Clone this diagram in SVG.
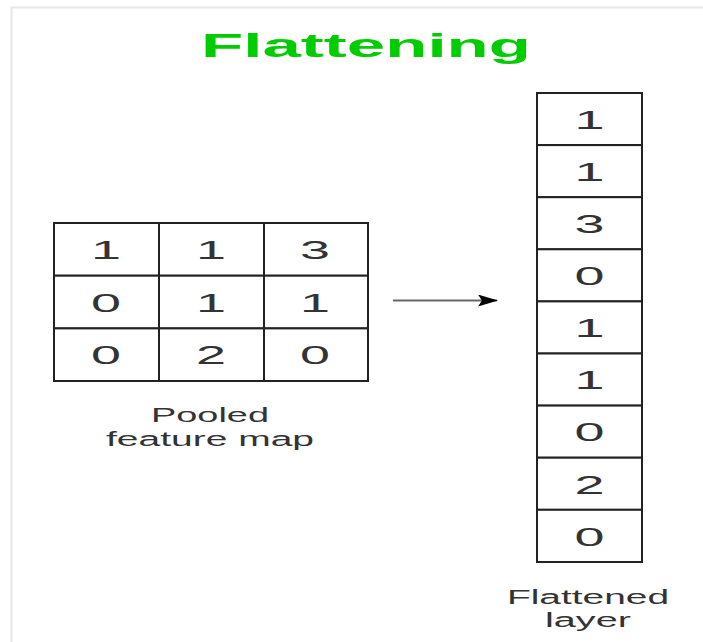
<svg xmlns="http://www.w3.org/2000/svg" width="703" height="642" viewBox="0 0 703 642">
<style>
.cell{fill:#fff;stroke:#222;stroke-width:2}
.d{font-family:"Liberation Sans",Arial,sans-serif;font-size:26px;fill:#333;text-anchor:middle}
.lbl{font-family:"Liberation Sans",Arial,sans-serif;font-size:20px;fill:#333;text-anchor:middle}
.title{font-family:"Liberation Sans",Arial,sans-serif;font-size:34px;font-weight:bold;fill:#00cc00;text-anchor:middle}
</style>
<defs>
<marker id="ah" markerWidth="20" markerHeight="12" refX="19" refY="6" orient="auto" markerUnits="userSpaceOnUse" viewBox="0 0 20 12">
<path d="M0,0 L20,6 L0,12 L4,6 Z" fill="#000"/>
</marker>
</defs>
<rect width="703" height="642" fill="#fff"/>
<path d="M11.5,642 V7.5 H703" fill="none" stroke="#e6e6e6" stroke-width="2"/>
<text id="title" class="title" x="366" y="57" textLength="330" lengthAdjust="spacingAndGlyphs">Flattening</text>
<g id="pooled-map">
<rect class="cell" x="54" y="223" width="105" height="52.7"/>
<rect class="cell" x="159" y="223" width="105" height="52.7"/>
<rect class="cell" x="264" y="223" width="104" height="52.7"/>
<rect class="cell" x="54" y="275.7" width="105" height="52.7"/>
<rect class="cell" x="159" y="275.7" width="105" height="52.7"/>
<rect class="cell" x="264" y="275.7" width="104" height="52.7"/>
<rect class="cell" x="54" y="328.4" width="105" height="52.6"/>
<rect class="cell" x="159" y="328.4" width="105" height="52.6"/>
<rect class="cell" x="264" y="328.4" width="104" height="52.6"/>
<g class="d">
<text x="106" y="259" textLength="30" lengthAdjust="spacingAndGlyphs">1</text>
<text x="211" y="259" textLength="30" lengthAdjust="spacingAndGlyphs">1</text>
<text x="315" y="259" textLength="30" lengthAdjust="spacingAndGlyphs">3</text>
<text x="106" y="312" textLength="30" lengthAdjust="spacingAndGlyphs">0</text>
<text x="211" y="312" textLength="30" lengthAdjust="spacingAndGlyphs">1</text>
<text x="315" y="312" textLength="30" lengthAdjust="spacingAndGlyphs">1</text>
<text x="106" y="364" textLength="30" lengthAdjust="spacingAndGlyphs">0</text>
<text x="211" y="364" textLength="30" lengthAdjust="spacingAndGlyphs">2</text>
<text x="315" y="364" textLength="30" lengthAdjust="spacingAndGlyphs">0</text>
</g>
<text class="lbl" x="210" y="422" textLength="118" lengthAdjust="spacingAndGlyphs">Pooled</text>
<text class="lbl" x="210" y="446" textLength="208" lengthAdjust="spacingAndGlyphs">feature map</text>
</g>
<g id="connectors">
<line x1="393" y1="300.5" x2="497" y2="300.5" stroke="#666" stroke-width="2" marker-end="url(#ah)"/>
</g>
<g id="flattened-layer">
<rect class="cell" x="537" y="93" width="105" height="52.1"/>
<rect class="cell" x="537" y="145.1" width="105" height="52.1"/>
<rect class="cell" x="537" y="197.2" width="105" height="52.1"/>
<rect class="cell" x="537" y="249.3" width="105" height="52.1"/>
<rect class="cell" x="537" y="301.4" width="105" height="52.1"/>
<rect class="cell" x="537" y="353.5" width="105" height="52.1"/>
<rect class="cell" x="537" y="405.6" width="105" height="52.1"/>
<rect class="cell" x="537" y="457.7" width="105" height="52.1"/>
<rect class="cell" x="537" y="509.8" width="105" height="52.2"/>
<g class="d">
<text x="589.5" y="129" textLength="30" lengthAdjust="spacingAndGlyphs">1</text>
<text x="589.5" y="181" textLength="30" lengthAdjust="spacingAndGlyphs">1</text>
<text x="589.5" y="233" textLength="30" lengthAdjust="spacingAndGlyphs">3</text>
<text x="589.5" y="285" textLength="30" lengthAdjust="spacingAndGlyphs">0</text>
<text x="589.5" y="337" textLength="30" lengthAdjust="spacingAndGlyphs">1</text>
<text x="589.5" y="389" textLength="30" lengthAdjust="spacingAndGlyphs">1</text>
<text x="589.5" y="441" textLength="30" lengthAdjust="spacingAndGlyphs">0</text>
<text x="589.5" y="494" textLength="30" lengthAdjust="spacingAndGlyphs">2</text>
<text x="589.5" y="546" textLength="30" lengthAdjust="spacingAndGlyphs">0</text>
</g>
<text class="lbl" x="588" y="604" textLength="162" lengthAdjust="spacingAndGlyphs">Flattened</text>
<text class="lbl" x="588" y="627" textLength="86" lengthAdjust="spacingAndGlyphs">layer</text>
</g>
</svg>
